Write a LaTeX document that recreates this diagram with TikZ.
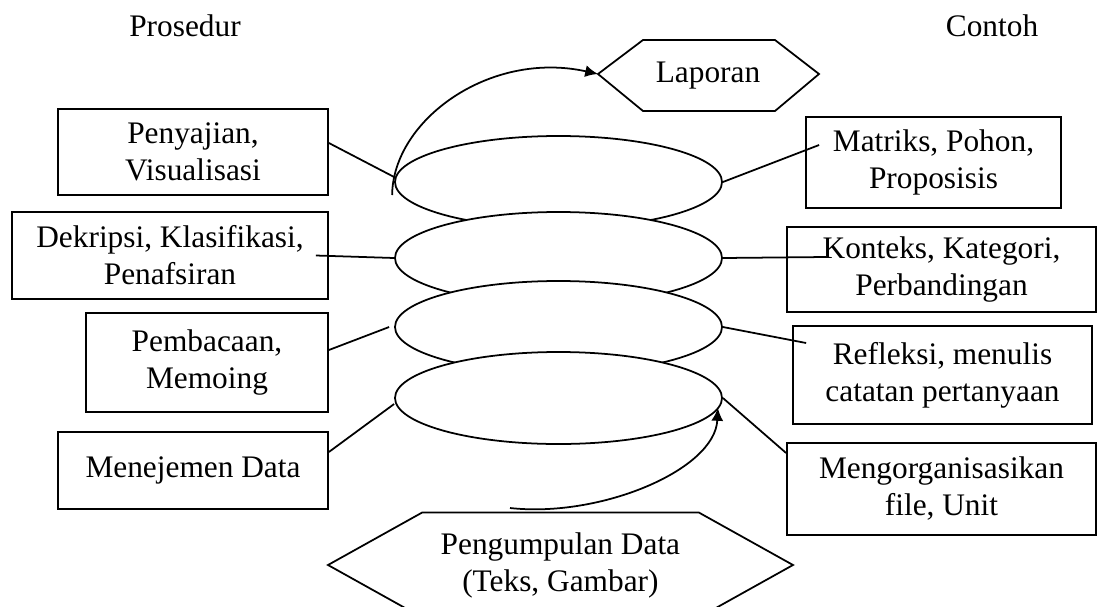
\documentclass[tikz,border=0pt]{standalone}
\usepackage{fontspec}
\setmainfont{Liberation Serif}
\usetikzlibrary{arrows.meta,shapes.geometric}

\begin{document}
\begin{tikzpicture}[
    font=\fontsize{22.3}{26.3}\selectfont,
    line width=1.25pt,
    box/.style={draw, align=center, inner sep=0pt},
    oval/.style={draw, ellipse, fill=white, minimum width=8.175cm, minimum height=2.3cm, inner sep=0pt},
    flow/.style={-{Latex[length=3.2mm,width=3mm]}}
]
    \useasboundingbox (0,0) rectangle (27.425,-15.15);
    \clip (0,0) rectangle (27.425,-15.15);
    % judul kolom
    \node[anchor=base] (prosedur) at (4.625,-0.9) {Prosedur};
    \node[anchor=base] (contoh) at (24.8,-0.9) {Contoh};
    % tumpukan elips
    \node[oval] (e1) at (13.9625,-4.55) {};
    \node[oval] (e2) at (13.9625,-6.45) {};
    \node[oval] (e3) at (13.9625,-8.175) {};
    \node[oval] (e4) at (13.9625,-9.95) {};
    % laporan
    \draw (14.95,-1.85) -- (16.075,-1.0) -- (19.375,-1.0) -- (20.475,-1.85) -- (19.375,-2.775) -- (16.075,-2.775) -- cycle;
    \node (laporan) at (17.7,-1.88) {Laporan};
    \coordinate (lapw) at (14.95,-1.85);
    % pengumpulan data
    \draw (8.2,-14.125) -- (10.55,-12.815) -- (17.475,-12.815) -- (19.825,-14.125) -- (17.475,-15.435) -- (10.55,-15.435) -- cycle;
    \node[align=center] (kumpul) at (14.01,-14.13) {Pengumpulan Data\\(Teks, Gambar)};
    \coordinate (kumpulw) at (12.75,-12.7);
    % prosedur (kiri)
    \node[box, minimum width=6.75cm, minimum height=2.15cm] (b1) at (4.825,-3.8) {Penyajian,\\Visualisasi};
    \node[box, minimum width=7.9cm, minimum height=2.175cm] (b2) at (4.25,-6.3875) {Dekripsi, Klasifikasi,\\Penafsiran};
    \node[box, minimum width=6.05cm, minimum height=2.475cm] (b3) at (5.175,-9.0625) {Pembacaan,\\Memoing};
    \node[box, minimum width=6.75cm, minimum height=1.925cm] (b4) at (4.825,-11.7625) {Menejemen Data};
    % contoh (kanan)
    \node[box, minimum width=6.375cm, minimum height=2.275cm] (r1) at (23.3375,-4.0625) {Matriks, Pohon,\\Proposisis};
    \node[box, minimum width=7.725cm, minimum height=2.125cm] (r2) at (23.5375,-6.7375) {Konteks, Kategori,\\Perbandingan};
    \node[box, minimum width=7.475cm, minimum height=2.45cm] (r3) at (23.5625,-9.375) {Refleksi, menulis\\catatan pertanyaan};
    \node[box, minimum width=7.725cm, minimum height=2.3cm] (r4) at (23.5375,-12.225) {Mengorganisasikan\\file, Unit};
    % garis penghubung
    \draw ([yshift=0.225cm]b1.east) -- ([yshift=0.125cm]e1.west);
    \draw ([xshift=-0.325cm]b2.east) -- (e2.west);
    \draw ([yshift=0.3125cm]b3.east) -- ([xshift=-0.125cm]e3.west);
    \draw ([yshift=0.4625cm]b4.east) -- ([yshift=-0.15cm]e4.west);
    \draw (e1.east) -- ([xshift=0.35cm,yshift=0.4375cm]r1.west);
    \draw (e2.east) -- ([xshift=1cm,yshift=0.3125cm]r2.west);
    \draw (e3.east) -- ([xshift=0.35cm,yshift=0.8cm]r3.west);
    \draw (e4.east) -- ([yshift=0.9cm]r4.west);
    % panah
    \draw[flow] ([xshift=-0.05cm,yshift=-0.325cm]e1.west) .. controls (9.825,-3.0) and (12.25,-1.25) .. (lapw);
    \draw[flow] (kumpulw) .. controls (15.0,-12.95) and (17.875,-11.75) .. ([xshift=-0.125cm,yshift=-0.25cm]e4.east);
\end{tikzpicture}
\end{document}
